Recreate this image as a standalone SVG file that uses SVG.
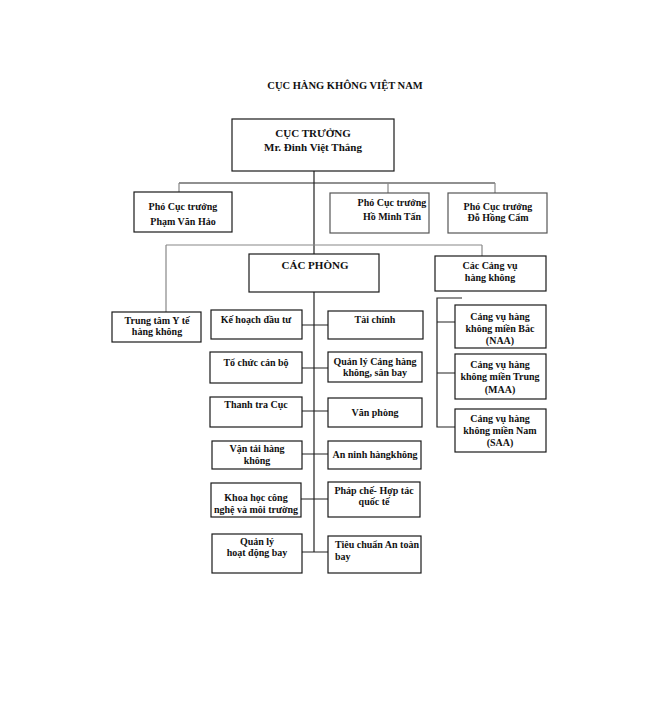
<svg xmlns="http://www.w3.org/2000/svg" width="656" height="706" viewBox="0 0 656 706">
<style>
.b{fill:#fff;stroke:#1a1a1a;stroke-width:1.2}
.g{fill:#fff;stroke:#555;stroke-width:1.2}
.t{font-family:"Liberation Serif","Times New Roman",serif;font-weight:bold;font-size:10px;fill:#111;text-anchor:middle}
.l{text-anchor:start}
.c{fill:none;stroke:#222;stroke-width:1.2}
.cg{fill:none;stroke:#888;stroke-width:1.2}
</style>
<rect width="656" height="706" fill="#fff"/>
<text class="t" x="345" y="89" style="font-size:10.5px">CỤC HÀNG KHÔNG VIỆT NAM</text>
<g id="connectors">
<path class="c" d="M314 171V254M314 292V552"/>
<path class="c" d="M179 183H495"/>
<path class="cg" d="M179 183V192M388 183V193M495 183V193"/>
<path class="cg" d="M166 245H482M166 245V312M482 245V256"/>
<path class="c" d="M302 325H328M302 368H328M302 411H328M302 454H328M301 499H328M302 552H328"/>
<path class="c" d="M462 298H437V427H455M437 322H455M437 373H455"/>
</g>
<g id="cuc-truong"><rect class="b" x="232" y="119" width="162" height="52"/><text class="t" x="313" y="137" style="font-size:11px">CỤC TRƯỞNG</text><text class="t" x="313" y="151" style="font-size:11px">Mr. Đinh Việt Thắng</text></g>
<g id="pho1"><rect class="b" x="134" y="192" width="98" height="40"/><text class="t" x="183" y="210">Phó Cục trưởng</text><text class="t" x="183" y="225">Phạm Văn Hảo</text></g>
<g id="pho2"><rect class="g" x="330" y="193" width="99" height="40"/><text class="t" x="392" y="206">Phó Cục trưởng</text><text class="t" x="392" y="220">Hồ Minh Tấn</text></g>
<g id="pho3"><rect class="g" x="448" y="193" width="99" height="40"/><text class="t" x="498" y="210">Phó Cục trưởng</text><text class="t" x="498" y="221">Đỗ Hồng Cẩm</text></g>
<g id="cac-phong"><rect class="b" x="249" y="254" width="130" height="38"/><text class="t" x="315" y="269" style="font-size:11px">CÁC PHÒNG</text></g>
<g id="cang-vu"><rect class="b" x="435" y="256" width="111" height="35"/><text class="t" x="490" y="269">Các Cảng vụ</text><text class="t" x="490" y="281">hàng không</text></g>
<g id="trung-tam"><rect class="b" x="112" y="312" width="89" height="30"/><text class="t" x="157" y="324">Trung tâm Y tế</text><text class="t" x="157" y="335">hàng không</text></g>
<g id="ke-hoach"><rect class="b" x="211" y="310" width="91" height="29"/><text class="t" x="256" y="323">Kế hoạch đầu tư</text></g>
<g id="tai-chinh"><rect class="b" x="328" y="311" width="95" height="28"/><text class="t" x="375" y="323">Tài chính</text></g>
<g id="to-chuc"><rect class="b" x="210" y="352" width="92" height="31"/><text class="t" x="256" y="366">Tổ chức cán bộ</text></g>
<g id="quan-ly-cang"><rect class="b" x="328" y="352" width="94" height="30"/><text class="t" x="375" y="365">Quản lý Cảng hàng</text><text class="t" x="375" y="376">không, sân bay</text></g>
<g id="thanh-tra"><rect class="b" x="210" y="397" width="92" height="30"/><text class="t" x="256" y="408">Thanh tra Cục</text></g>
<g id="van-phong"><rect class="b" x="328" y="398" width="94" height="29"/><text class="t" x="375" y="416">Văn phòng</text></g>
<g id="van-tai"><rect class="b" x="212" y="441" width="90" height="28"/><text class="t" x="257" y="452">Vận tải hàng</text><text class="t" x="257" y="464">không</text></g>
<g id="an-ninh"><rect class="b" x="328" y="441" width="93" height="28"/><text class="t" x="375" y="458">An ninh hàngkhông</text></g>
<g id="khoa-hoc"><rect class="b" x="211" y="483" width="90" height="34"/><text class="t" x="256" y="501">Khoa học công</text><text class="t" x="256" y="513">nghệ và môi trường</text></g>
<g id="phap-che"><rect class="b" x="328" y="482" width="92" height="35"/><text class="t" x="374" y="494">Pháp chế- Hợp tác</text><text class="t" x="374" y="505">quốc tế</text></g>
<g id="quan-ly-bay"><rect class="b" x="212" y="534" width="90" height="39"/><text class="t" x="257" y="545">Quản lý</text><text class="t" x="257" y="556">hoạt động bay</text></g>
<g id="tieu-chuan"><rect class="b" x="328" y="536" width="93" height="37"/><text class="t l" x="335" y="548">Tiêu chuẩn An toàn</text><text class="t l" x="335" y="560">bay</text></g>
<g id="naa"><rect class="b" x="455" y="305" width="91" height="43"/><text class="t" x="500" y="320">Cảng vụ hàng</text><text class="t" x="500" y="332">không miền Bắc</text><text class="t" x="500" y="344">(NAA)</text></g>
<g id="maa"><rect class="b" x="455" y="354" width="91" height="45"/><text class="t" x="500" y="368">Cảng vụ hàng</text><text class="t" x="500" y="380">không miền Trung</text><text class="t" x="500" y="393">(MAA)</text></g>
<g id="saa"><rect class="b" x="455" y="409" width="91" height="43"/><text class="t" x="500" y="422">Cảng vụ hàng</text><text class="t" x="500" y="434">không miền Nam</text><text class="t" x="500" y="446">(SAA)</text></g>
</svg>
